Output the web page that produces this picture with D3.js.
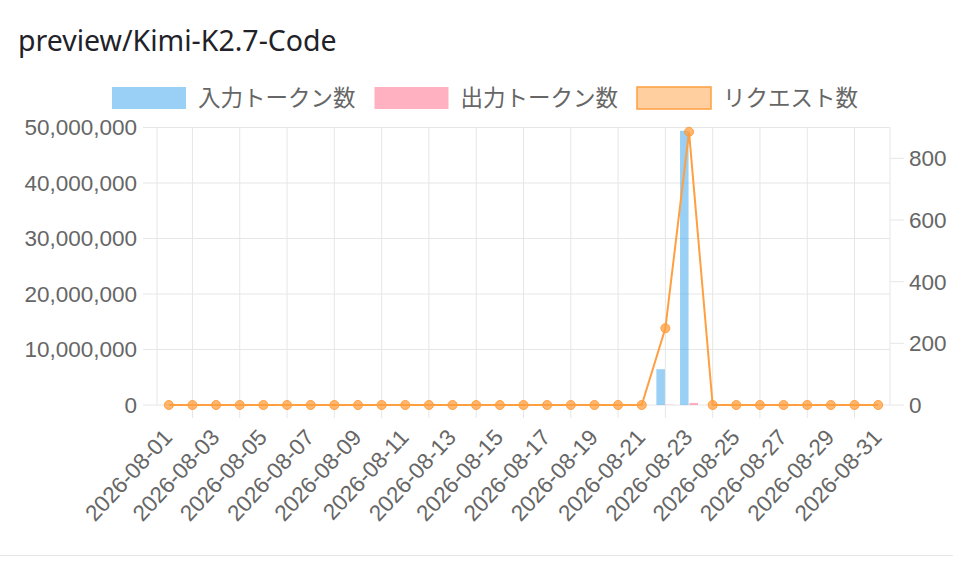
<!DOCTYPE html>
<html>
<head>
<meta charset="utf-8">
<script src="https://cdn.jsdelivr.net/npm/d3@7/dist/d3.min.js"></script>
<style>
  html, body { margin: 0; padding: 0; background: #fff; }
  svg { display: block; }
</style>
</head>
<body>
<svg id="chart" width="953" height="576"></svg>
<script>
const title = "preview/Kimi-K2.7-Code";
const categories = [
  "2026-08-01","2026-08-02","2026-08-03","2026-08-04","2026-08-05","2026-08-06","2026-08-07","2026-08-08",
  "2026-08-09","2026-08-10","2026-08-11","2026-08-12","2026-08-13","2026-08-14","2026-08-15","2026-08-16",
  "2026-08-17","2026-08-18","2026-08-19","2026-08-20","2026-08-21","2026-08-22","2026-08-23","2026-08-24",
  "2026-08-25","2026-08-26","2026-08-27","2026-08-28","2026-08-29","2026-08-30","2026-08-31"
];
const inputTokens = [0,0,0,0,0,0,0,0,0,0,0,0,0,0,0,0,0,0,0,0,0,6450000,49400000,0,0,0,0,0,0,0,0];
const outputTokens = [0,0,0,0,0,0,0,0,0,0,0,0,0,0,0,0,0,0,0,0,0,40000,380000,0,0,0,0,0,0,0,0];
const requests = [0,0,0,0,0,0,0,0,0,0,0,0,0,0,0,0,0,0,0,0,0,249,886,0,0,0,0,0,0,0,0];
const seriesNames = ["入力トークン数", "出力トークン数", "リクエスト数"];
const leftTicks = [0, 10000000, 20000000, 30000000, 40000000, 50000000];
const rightTicks = [0, 200, 400, 600, 800];
const leftMax = 50000000;
const rightMax = 900;

const svg = d3.select("#chart");
const W = 953;
const plot = { left: 157, right: 890, top: 127.5, bottom: 405 };
const gridColor = "#e6e6e6";
const tickColor = "#666";
const latin = "'Liberation Sans', Arial, sans-serif";
const cjk = "'Liberation Sans', 'Noto Sans CJK JP', sans-serif";
const fs = 22.5;

// card
svg.append("rect").attr("x", -10).attr("y", -20).attr("width", W + 30).attr("height", 575.5)
  .attr("rx", 10).attr("fill", "#fff").attr("stroke", "#e5e7eb").attr("stroke-width", 1.2);

svg.append("text").attr("x", 18).attr("y", 51).text(title)
  .attr("font-family", "'Noto Sans', 'Open Sans', sans-serif").attr("font-size", 28.5)
  .attr("fill", "#1f2329");

const x = d3.scaleBand().domain(categories).range([plot.left, plot.right]).padding(0);
const yL = d3.scaleLinear().domain([0, leftMax]).range([plot.bottom, plot.top]);
const yR = d3.scaleLinear().domain([0, rightMax]).range([plot.bottom, plot.top]);
const bw = x.bandwidth();
const cx = d => x(d) + bw / 2;

// horizontal grid (left axis)
const gL = svg.append("g");
leftTicks.forEach(t => {
  gL.append("line").attr("x1", plot.left - 14).attr("x2", plot.right)
    .attr("y1", yL(t)).attr("y2", yL(t)).attr("stroke", gridColor).attr("stroke-width", 1);
  gL.append("text").attr("x", 137).attr("y", yL(t)).attr("dy", "0.35em")
    .attr("text-anchor", "end").attr("font-family", latin).attr("font-size", fs)
    .attr("fill", tickColor).text(d3.format(",")(t));
});
// right axis ticks
rightTicks.forEach(t => {
  svg.append("line").attr("x1", plot.right).attr("x2", plot.right + 14)
    .attr("y1", yR(t)).attr("y2", yR(t)).attr("stroke", gridColor);
  svg.append("text").attr("x", 909).attr("y", yR(t)).attr("dy", "0.35em")
    .attr("text-anchor", "start").attr("font-family", latin).attr("font-size", fs)
    .attr("fill", tickColor).text(t);
});

// vertical grid lines: between displayed (every other) ticks
categories.forEach((c, i) => {
  if (i % 2 === 1) {
    svg.append("line").attr("x1", cx(c)).attr("x2", cx(c))
      .attr("y1", plot.top).attr("y2", plot.bottom + 13).attr("stroke", gridColor);
  }
});
// borders
svg.append("line").attr("x1", plot.left).attr("x2", plot.left).attr("y1", plot.top).attr("y2", plot.bottom)
  .attr("stroke", gridColor);
svg.append("line").attr("x1", plot.right).attr("x2", plot.right).attr("y1", plot.top).attr("y2", plot.bottom)
  .attr("stroke", gridColor);

// x labels
categories.forEach((c, i) => {
  if (i % 2 === 0) {
    svg.append("text")
      .attr("transform", `translate(${cx(c) - 1},${plot.bottom + 28}) rotate(-47)`)
      .attr("text-anchor", "end").attr("dy", "0.35em")
      .attr("font-family", latin).attr("font-size", fs).attr("fill", tickColor).text(c);
  }
});

// bars
const catW = bw * 0.8;
const barW = catW / 2 * 0.9;
const blue = "rgba(54,162,235,0.5)";
const pink = "rgba(255,99,132,0.5)";
const orange = "#ff9f40";
svg.append("g").selectAll("rect").data(categories).join("rect")
  .attr("x", (d) => cx(d) - catW / 2 + (catW / 2 - barW) / 2)
  .attr("width", barW)
  .attr("y", (d, i) => yL(inputTokens[i]))
  .attr("height", (d, i) => plot.bottom - yL(inputTokens[i]))
  .attr("fill", blue);
svg.append("g").selectAll("rect").data(categories).join("rect")
  .attr("x", (d) => cx(d) + (catW / 2 - barW) / 2)
  .attr("width", barW)
  .attr("y", (d, i) => yL(outputTokens[i]))
  .attr("height", (d, i) => plot.bottom - yL(outputTokens[i]))
  .attr("fill", pink);

// line
const line = d3.line().x((d, i) => cx(categories[i])).y(d => yR(d));
svg.append("path").datum(requests).attr("d", line).attr("fill", "none")
  .attr("stroke", orange).attr("stroke-width", 2);
svg.append("g").selectAll("circle").data(requests).join("circle")
  .attr("cx", (d, i) => cx(categories[i])).attr("cy", d => yR(d)).attr("r", 4.5)
  .attr("fill", "rgba(255,159,64,0.75)").attr("stroke", orange).attr("stroke-width", 1);

// legend
const legendItems = [
  { name: seriesNames[0], fill: blue, stroke: "none" },
  { name: seriesNames[1], fill: pink, stroke: "none" },
  { name: seriesNames[2], fill: "rgba(255,159,64,0.5)", stroke: orange }
];
const lg = svg.append("g");
const boxW = 74, boxH = 22, gapText = 12, gapItem = 19, legY = 87;
const groups = legendItems.map(it => {
  const g = lg.append("g");
  g.append("rect").attr("x", 0).attr("y", legY).attr("width", boxW).attr("height", boxH)
    .attr("fill", it.fill).attr("stroke", it.stroke).attr("stroke-width", it.stroke === "none" ? 0 : 1.5);
  const t = g.append("text").attr("x", boxW + gapText).attr("y", legY + boxH / 2).attr("dy", "0.35em")
    .attr("font-family", cjk).attr("font-size", fs).attr("fill", tickColor).text(it.name);
  return { g, w: boxW + gapText + t.node().getComputedTextLength() };
});
const total = d3.sum(groups, d => d.w) + gapItem * (groups.length - 1);
let lx = 485 - total / 2;
groups.forEach(d => { d.g.attr("transform", `translate(${lx},0)`); lx += d.w + gapItem; });
</script>
</body>
</html>
